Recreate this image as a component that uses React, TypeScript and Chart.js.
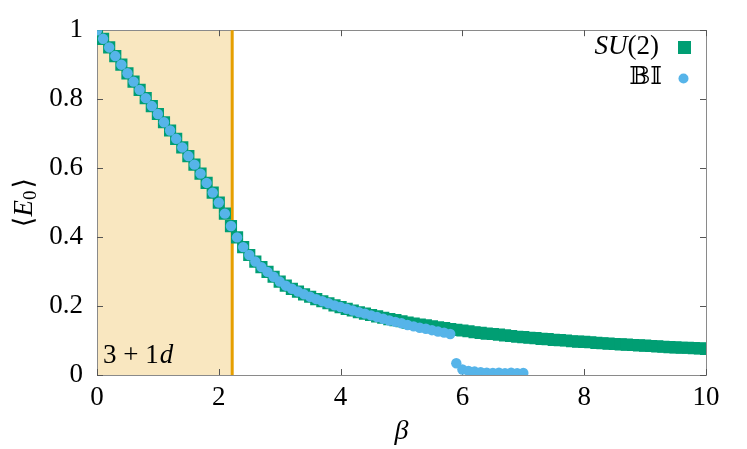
import React, { useEffect, useRef } from "react";
import { Chart, registerables } from "chart.js";

Chart.register(...registerables);

// ---- data ----
const su2Beta = [
  0.0, 0.1, 0.2, 0.3, 0.4, 0.5, 0.6, 0.7, 0.8, 0.9,
  1.0, 1.1, 1.2, 1.3, 1.4, 1.5, 1.6, 1.7, 1.8, 1.9,
  2.0, 2.1, 2.2, 2.3, 2.4, 2.5, 2.6, 2.7, 2.8, 2.9,
  3.0, 3.1, 3.2, 3.3, 3.4, 3.5, 3.6, 3.7, 3.8, 3.9,
  4.0, 4.1, 4.2, 4.3, 4.4, 4.5, 4.6, 4.7, 4.8, 4.9,
  5.0, 5.1, 5.2, 5.3, 5.4, 5.5, 5.6, 5.7, 5.8, 5.9,
  6.0, 6.1, 6.2, 6.3, 6.4, 6.5, 6.6, 6.7, 6.8, 6.9,
  7.0, 7.1, 7.2, 7.3, 7.4, 7.5, 7.6, 7.7, 7.8, 7.9,
  8.0, 8.1, 8.2, 8.3, 8.4, 8.5, 8.6, 8.7, 8.8, 8.9,
  9.0, 9.1, 9.2, 9.3, 9.4, 9.5, 9.6, 9.7, 9.8, 9.9,
  10.0,
];
const su2E0 = [
  1.000, 0.975, 0.950, 0.925, 0.900, 0.875, 0.851, 0.827, 0.803, 0.780,
  0.757, 0.733, 0.709, 0.685, 0.660, 0.635, 0.610, 0.584, 0.557, 0.529,
  0.500, 0.468, 0.432, 0.399, 0.371, 0.348, 0.329, 0.313, 0.299, 0.285,
  0.271, 0.259, 0.250, 0.242, 0.234, 0.227, 0.220, 0.214, 0.208, 0.202,
  0.197, 0.192, 0.187, 0.182, 0.178, 0.174, 0.170, 0.166, 0.162, 0.159,
  0.156, 0.152, 0.149, 0.146, 0.144, 0.141, 0.138, 0.136, 0.133, 0.131,
  0.129, 0.127, 0.124, 0.122, 0.120, 0.119, 0.117, 0.115, 0.113, 0.111,
  0.110, 0.108, 0.107, 0.105, 0.104, 0.102, 0.101, 0.100, 0.098, 0.097,
  0.096, 0.095, 0.093, 0.092, 0.091, 0.090, 0.089, 0.088, 0.087, 0.086,
  0.085, 0.084, 0.083, 0.082, 0.081, 0.080, 0.079, 0.079, 0.078, 0.077,
  0.076,
];
const biBeta = [
  0.0, 0.1, 0.2, 0.3, 0.4, 0.5, 0.6, 0.7, 0.8, 0.9,
  1.0, 1.1, 1.2, 1.3, 1.4, 1.5, 1.6, 1.7, 1.8, 1.9,
  2.0, 2.1, 2.2, 2.3, 2.4, 2.5, 2.6, 2.7, 2.8, 2.9,
  3.0, 3.1, 3.2, 3.3, 3.4, 3.5, 3.6, 3.7, 3.8, 3.9,
  4.0, 4.1, 4.2, 4.3, 4.4, 4.5, 4.6, 4.7, 4.8, 4.9,
  5.0, 5.1, 5.2, 5.3, 5.4, 5.5, 5.6, 5.7, 5.8,
  5.9, 6.0, 6.1, 6.2, 6.3, 6.4, 6.5, 6.6, 6.7, 6.8, 6.9, 7.0,
];
const biE0 = [
  1.000, 0.975, 0.950, 0.925, 0.900, 0.875, 0.851, 0.827, 0.803, 0.780,
  0.757, 0.733, 0.709, 0.685, 0.660, 0.635, 0.610, 0.584, 0.557, 0.529,
  0.500, 0.468, 0.432, 0.399, 0.371, 0.348, 0.329, 0.313, 0.299, 0.285,
  0.271, 0.259, 0.250, 0.242, 0.234, 0.227, 0.220, 0.214, 0.208, 0.202,
  0.197, 0.192, 0.187, 0.182, 0.178, 0.173, 0.168, 0.163, 0.158, 0.154,
  0.150, 0.145, 0.141, 0.137, 0.134, 0.130, 0.126, 0.123, 0.119,
  0.034, 0.016, 0.012, 0.010, 0.008, 0.007, 0.006, 0.007, 0.005, 0.007, 0.005, 0.006,
];
const xTicks = [0, 2, 4, 6, 8, 10];
const yTicks = [0, 0.2, 0.4, 0.6, 0.8, 1];
const shadeEnd = 2.22;
const seriesLabels = ["SU(2)", "𝔹𝕀"];

const GREEN = "#009E73";
const BLUE = "#56B4E9";
const ORANGE = "#E69F00";
const SERIF = "'Liberation Serif', 'DejaVu Serif', serif";
const FS = 27;

const decor = {
  id: "decor",
  beforeDatasetsDraw(chart: any) {
    const { ctx, chartArea: a, scales } = chart;
    const x = scales.x, y = scales.y;
    ctx.save();
    const xs = x.getPixelForValue(shadeEnd);
    ctx.fillStyle = "rgb(249,231,192)";
    ctx.fillRect(a.left, a.top, xs - a.left, a.bottom - a.top);

    // frame
    ctx.strokeStyle = "#8a8a8a";
    ctx.lineWidth = 1;
    ctx.strokeRect(Math.round(a.left) + 0.5, Math.round(a.top) + 0.5,
      Math.round(a.right - a.left), Math.round(a.bottom - a.top));

    // inward ticks
    ctx.strokeStyle = "#555";
    ctx.beginPath();
    const tl = 6;
    xTicks.forEach((v) => {
      const px = Math.round(x.getPixelForValue(v)) + 0.5;
      ctx.moveTo(px, a.bottom); ctx.lineTo(px, a.bottom - tl);
      ctx.moveTo(px, a.top); ctx.lineTo(px, a.top + tl);
    });
    yTicks.forEach((v) => {
      const py = Math.round(y.getPixelForValue(v)) + 0.5;
      ctx.moveTo(a.left, py); ctx.lineTo(a.left + tl, py);
      ctx.moveTo(a.right, py); ctx.lineTo(a.right - tl, py);
    });
    ctx.stroke();

    // vertical line
    ctx.strokeStyle = ORANGE;
    ctx.lineWidth = 3;
    ctx.beginPath();
    ctx.moveTo(xs, a.top); ctx.lineTo(xs, a.bottom);
    ctx.stroke();

    // 3+1d label
    ctx.fillStyle = "#000";
    ctx.textBaseline = "alphabetic";
    ctx.textAlign = "left";
    ctx.font = `${FS}px ${SERIF}`;
    const t1 = "3 + 1";
    ctx.fillText(t1, a.left + 6, a.bottom - 12);
    const w1 = ctx.measureText(t1).width;
    ctx.font = `italic ${FS}px ${SERIF}`;
    ctx.fillText("d", a.left + 6 + w1 + 1, a.bottom - 12);
    ctx.restore();
  },
  afterDraw(chart: any) {
    const { ctx, chartArea: a } = chart;
    ctx.save();
    ctx.fillStyle = "#000";
    ctx.textBaseline = "middle";

    // axis titles
    ctx.textAlign = "center";
    ctx.font = `italic ${FS + 1}px ${SERIF}`;
    ctx.fillText("β", (a.left + a.right) / 2, 432);

    ctx.save();
    ctx.translate(25, (a.top + a.bottom) / 2);
    ctx.rotate(-Math.PI / 2);
    const lb = "⟨", rb = "⟩";
    ctx.font = `italic ${FS}px ${SERIF}`;
    const wE = ctx.measureText("E").width;
    ctx.font = `${FS - 8}px ${SERIF}`;
    const w0 = ctx.measureText("0").width;
    ctx.font = `${FS}px ${SERIF}`;
    const wl = ctx.measureText(lb).width;
    const total = wl * 2 + wE + w0 + 2;
    let cx = -total / 2;
    ctx.textAlign = "left";
    ctx.fillText(lb, cx, 0); cx += wl;
    ctx.font = `italic ${FS}px ${SERIF}`;
    ctx.fillText("E", cx, 0); cx += wE;
    ctx.font = `${FS - 8}px ${SERIF}`;
    ctx.fillText("0", cx, 6); cx += w0 + 2;
    ctx.font = `${FS}px ${SERIF}`;
    ctx.fillText(rb, cx, 0);
    ctx.restore();

    // legend
    ctx.textAlign = "right";
    ctx.font = `${FS}px ${SERIF}`;
    const wp = ctx.measureText("(2)").width;
    ctx.fillText("(2)", 659, 47);
    ctx.font = `italic ${FS}px ${SERIF}`;
    ctx.fillText("SU", 659 - wp, 47);
    ctx.fillStyle = GREEN;
    ctx.fillRect(678, 41, 13, 13);

    ctx.fillStyle = "#000";
    ctx.font = `${FS - 2}px 'DejaVu Serif', 'DejaVu Sans', serif`;
    ctx.fillText(seriesLabels[1], 662, 77);
    ctx.fillStyle = BLUE;
    ctx.beginPath();
    ctx.arc(683.5, 78.5, 5, 0, Math.PI * 2);
    ctx.fill();
    ctx.restore();
  },
};

export default function App() {
  const ref = useRef<HTMLCanvasElement | null>(null);
  useEffect(() => {
    if (!ref.current) return;
    const chart = new Chart(ref.current, {
      type: "scatter",
      data: {
        datasets: [
          {
            label: seriesLabels[1],
            data: biBeta.map((b, i) => ({ x: b, y: biE0[i] })),
            pointStyle: "circle",
            pointRadius: 5.2,
            pointBackgroundColor: BLUE,
            pointBorderWidth: 0,
            order: 1,
          },
          {
            label: seriesLabels[0],
            data: su2Beta.map((b, i) => ({ x: b, y: su2E0[i] })),
            pointStyle: "rect",
            pointRadius: 8.6,
            pointBackgroundColor: GREEN,
            pointBorderWidth: 0,
            order: 2,
          },
        ],
      },
      options: {
        animation: false,
        responsive: false,
        maintainAspectRatio: false,
        layout: { padding: { left: 0, right: 41, top: 23, bottom: 0 } },
        plugins: { legend: { display: false }, tooltip: { enabled: false } },
        scales: {
          x: {
            type: "linear",
            min: 0,
            max: 10,
            afterFit: (s: any) => { s.height = 74; },
            afterBuildTicks: (s: any) => { s.ticks = xTicks.map((v) => ({ value: v })); },
            grid: { display: false, drawTicks: false },
            border: { display: false },
            ticks: {
              padding: 7, color: "#000", font: { family: SERIF, size: FS },
              callback: (v: any) => String(Number(v)),
            },
          },
          y: {
            type: "linear",
            min: 0,
            max: 1,
            afterFit: (s: any) => { s.width = 97; },
            afterBuildTicks: (s: any) => { s.ticks = yTicks.map((v) => ({ value: v })); },
            grid: { display: false, drawTicks: false },
            border: { display: false },
            ticks: {
              padding: 14, color: "#000", font: { family: SERIF, size: FS },
              callback: (v: any) => String(Number(v)),
            },
          },
        },
      },
      plugins: [decor],
    });
    return () => chart.destroy();
  }, []);
  return (
    <div style={{ position: "fixed", left: 0, top: 0, width: 747, height: 449, background: "#fff" }}>
      <canvas ref={ref} width={747} height={449} style={{ width: 747, height: 449 }} />
    </div>
  );
}
